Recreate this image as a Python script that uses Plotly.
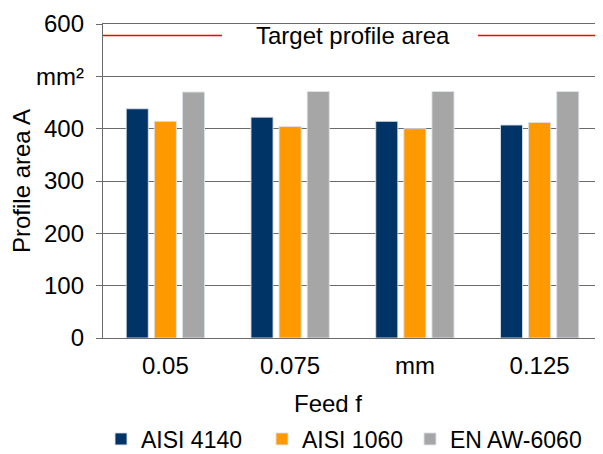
import plotly.graph_objects as go

categories = ["0.05", "0.075", "mm", "0.125"]
series_names = ["AISI 4140", "AISI 1060", "EN AW-6060"]
aisi_4140 = [438, 422, 414, 407]
aisi_1060 = [414, 404, 400, 412]
en_aw_6060 = [470, 471, 471, 471]
target_area = 578
y_tick_vals = [0, 100, 200, 300, 400, 500, 600]
y_tick_text = ["0", "100", "200", "300", "400", "mm²", "600"]
target_label = "Target profile area"
x_title = "Feed f"
y_title = "Profile area A"

colors = ["#003366", "#FF9900", "#A6A6A6"]
FONT = "Liberation Sans, Arial, sans-serif"
FS = 24
LFS = 23
GRID = "#6b6b6b"
OFF = 8  # page offset of the figure (body margin)
PL, PT, PW, PH = 103 - OFF, 24 - OFF, 499, 314


def px(xp):
    return (xp - OFF - PL) / PW


def py(yp):
    return (PT + PH - (yp - OFF)) / PH


fig = go.Figure()
legend_widths = [116, 103, None]
for name, vals, col, lw in zip(series_names, [aisi_4140, aisi_1060, en_aw_6060], colors, legend_widths):
    kw = {}
    if lw is not None:
        kw["legendwidth"] = lw
    fig.add_trace(go.Bar(
        x=categories, y=vals, name=name,
        marker=dict(color=col, line=dict(color="rgba(220,225,235,0.9)", width=1)),
        **kw
    ))

# target line split around label
fig.add_shape(type="line", xref="paper", yref="y", x0=0, x1=px(222),
              y0=target_area, y1=target_area, line=dict(color="#FF0000", width=1.5))
fig.add_shape(type="line", xref="paper", yref="y", x0=px(478), x1=1,
              y0=target_area, y1=target_area, line=dict(color="#FF0000", width=1.5))
fig.add_annotation(xref="paper", yref="y", x=0.5, y=target_area, text=target_label,
                   showarrow=False, font=dict(family=FONT, size=FS, color="#000000"),
                   xanchor="center", yanchor="middle")

# x axis title as annotation
fig.add_annotation(xref="paper", yref="paper", x=px(328), y=py(403),
                   text=x_title, showarrow=False,
                   font=dict(family=FONT, size=FS, color="#000000"),
                   xanchor="center", yanchor="middle")

fig.update_layout(
    width=603, height=454,
    margin=dict(l=PL, r=603 - PL - PW, t=PT, b=454 - PT - PH, autoexpand=False),
    paper_bgcolor="white", plot_bgcolor="white",
    barmode="group", bargap=0.324, bargroupgap=0.214,
    font=dict(family=FONT, size=FS, color="#000000"),
    showlegend=True,
    legend=dict(orientation="h", x=-0.004, xanchor="left",
                y=py(439), yanchor="middle",
                font=dict(family=FONT, size=LFS, color="#000000"),
                bgcolor="rgba(0,0,0,0)", itemclick=False),
)
fig.update_xaxes(
    type="category", showgrid=False, showline=True, linecolor=GRID, linewidth=1.3,
    mirror=True, ticks="", ticklabelstandoff=6,
    tickfont=dict(family=FONT, size=FS, color="#000000"),
)
fig.update_yaxes(
    range=[0, 600], tickvals=y_tick_vals, ticktext=y_tick_text,
    showgrid=True, gridcolor=GRID, gridwidth=1.3,
    showline=True, linecolor=GRID, linewidth=1.3, mirror=True,
    ticks="outside", ticklen=6, tickcolor=GRID, tickwidth=1.3,
    ticklabelstandoff=7, zeroline=False,
    tickfont=dict(family=FONT, size=FS, color="#000000"),
    title=dict(text=y_title, font=dict(family=FONT, size=FS, color="#000000"), standoff=3),
)

fig.write_html("out.html")
